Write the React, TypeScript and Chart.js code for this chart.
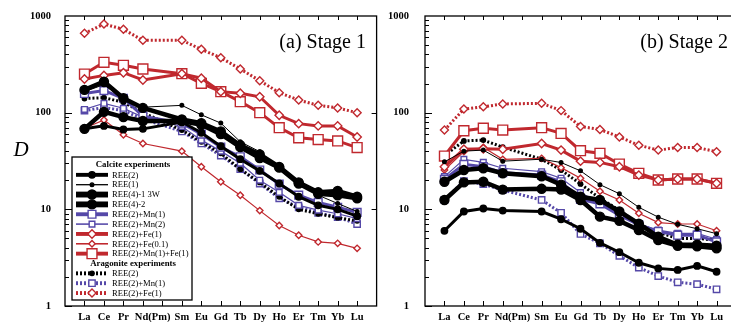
import React, { useEffect, useRef } from 'react';
import { Chart, registerables } from 'chart.js';

Chart.register(...registerables);

// ---------- categories ----------
const elements = ['La', 'Ce', 'Pr', 'Nd', 'Sm', 'Eu', 'Gd', 'Tb', 'Dy', 'Ho', 'Er', 'Tm', 'Yb', 'Lu'];
const atomicNumbers = [57, 58, 59, 60, 62, 63, 64, 65, 66, 67, 68, 69, 70, 71];
const tickAtomicNumbers = [57, 58, 59, 60, 61, 62, 63, 64, 65, 66, 67, 68, 69, 70, 71];
const axisLabels = ['La', 'Ce', 'Pr', 'Nd(Pm)', 'Sm', 'Eu', 'Gd', 'Tb', 'Dy', 'Ho', 'Er', 'Tm', 'Yb', 'Lu'];
const axisLabelAt = [57, 58, 59, 60.5, 62, 63, 64, 65, 66, 67, 68, 69, 70, 71];
const yTickValues = [1, 10, 100, 1000];

// ---------- Stage 1 ----------
const s1CalREE2 = [68, 73, 67, 68, 80, 62, 45, 33, 25, 18.5, 13.5, 11, 10, 8.5];
const s1CalREE1 = [165, 195, 138, 114, 119, 95, 78, 50, 39.5, 27, 18.5, 14, 11.5, 9.5];
const s1CalREE4_1 = [172, 209, 141, 112, 85, 78, 64, 46, 37, 27.5, 19, 15, 15.5, 13.5];
const s1CalREE4_2 = [68, 102, 90, 82, 82, 75, 60, 44, 34, 27, 18.5, 14.5, 14, 13];
const s1CalMn1 = [158, 169, 141, 92, 78, 60, 44, 35, 25.5, 18.2, 14, 11.8, 10.5, 9.3];
const s1CalMn2 = [108, 125, 111, 90, 72, 52, 40, 30, 20, 15, 11, 9.8, 9, 8];
const s1CalFe1 = [223, 243, 259, 218, 253, 227, 165, 159, 146, 94, 77, 73, 73, 56];
const s1CalFe01 = [69, 84, 59, 48, 40, 27.6, 19.3, 14, 9.7, 6.8, 5.4, 4.6, 4.45, 3.95];
const s1CalMnFe = [251, 332, 309, 283, 253, 201, 165, 130, 100, 70, 55, 52.7, 51, 43.5];
const s1AraREE2 = [140, 143, 128, 100, 66, 50, 38, 26, 19, 13.5, 10, 9, 8.2, 7.6];
const s1AraMn1 = [105, 113, 105, 86, 64, 48, 36, 26, 18.5, 13, 10.5, 9.2, 8.3, 7.05];
const s1AraFe1 = [662, 826, 728, 560, 560, 452, 370, 283, 214, 161, 135, 119, 112, 100];

// ---------- Stage 2 ----------
const s2CalREE2 = [6, 9.5, 10.2, 9.7, 9.5, 7.9, 6.3, 4.5, 3.6, 2.8, 2.45, 2.36, 2.6, 2.26];
const s2CalREE1 = [31, 40, 41, 31.5, 33, 30.5, 25, 18, 14.5, 10.5, 8.3, 7, 6.3, 5.6];
const s2CalREE4_1 = [19.3, 25.5, 26.6, 23.6, 22, 18, 13.5, 12.5, 9.5, 7.1, 5.2, 4.3, 4.3, 4.2];
const s2CalREE4_2 = [12.5, 19, 19.3, 16, 16.3, 16, 12.5, 8.4, 7.6, 6.1, 4.8, 4.2, 4.15, 3.95];
const s2CalMn1 = [20.4, 29.2, 27.6, 23.9, 22.6, 19.3, 12.7, 11.4, 8.7, 6.9, 5.9, 5.4, 5.4, 4.6];
const s2CalMn2 = [21.8, 32.9, 30.6, 26.6, 24.5, 21, 14.9, 11.5, 9.1, 7.05, 6.1, 5.65, 5.65, 4.9];
const s2CalFe1 = [27.6, 41.8, 42.4, 41.8, 48, 41, 31.5, 30.6, 27.6, 22.6, 20.1, 20.6, 20.6, 18.6];
const s2CalFe01 = [25.5, 39.5, 43.8, 32.9, 33.7, 27, 21, 15.4, 12.5, 9.1, 7.3, 7.05, 7.05, 6.0];
const s2CalMnFe = [35.6, 65, 69, 66, 70, 61, 40.4, 38, 29.4, 23.6, 20.1, 20.6, 20.6, 18.6];
const s2AraREE2 = [36, 51, 52, 44, 33, 25.5, 18.3, 13, 9.8, 7, 5.8, 5.0, 5.0, 4.8];
const s2AraMn1 = [12.5, 19.6, 18.2, 15.8, 12.5, 9.2, 5.56, 4.45, 3.3, 2.5, 2.04, 1.76, 1.68, 1.49];
const s2AraFe1 = [66, 109, 115, 123, 125, 105, 72, 67, 56, 46, 41, 43.5, 43.5, 39.5];

// ---------- series names & styles ----------
const BLACK = '#000000';
const PURPLE = '#5548a8';
const RED = '#c0282e';

type Style = { color: string; lw: number; dash: number[]; shape: string; r: number; filled: boolean };

const seriesNames = ['REE(2)', 'REE(1)', 'REE(4)-1 3W', 'REE(4)-2', 'REE(2)+Mn(1)', 'REE(2)+Mn(2)', 'REE(2)+Fe(1)', 'REE(2)+Fe(0.1)', 'REE(2)+Mn(1)+Fe(1)', 'REE(2)', 'REE(2)+Mn(1)', 'REE(2)+Fe(1)'];
const seriesStyles: Style[] = [
  { color: BLACK, lw: 3, dash: [], shape: 'circle', r: 3.2, filled: true },
  { color: BLACK, lw: 1, dash: [], shape: 'circle', r: 1.8, filled: true },
  { color: BLACK, lw: 4.5, dash: [], shape: 'circle', r: 4.5, filled: true },
  { color: BLACK, lw: 4.5, dash: [], shape: 'circle', r: 4.5, filled: true },
  { color: PURPLE, lw: 3, dash: [], shape: 'rect', r: 5.5, filled: false },
  { color: PURPLE, lw: 1.2, dash: [], shape: 'rect', r: 4, filled: false },
  { color: RED, lw: 3, dash: [], shape: 'rectRot', r: 4.2, filled: false },
  { color: RED, lw: 1.2, dash: [], shape: 'rectRot', r: 3.2, filled: false },
  { color: RED, lw: 3, dash: [], shape: 'rect', r: 7, filled: false },
  { color: BLACK, lw: 3, dash: [2, 2], shape: 'circle', r: 2.2, filled: true },
  { color: PURPLE, lw: 3, dash: [2, 2], shape: 'rect', r: 4.5, filled: false },
  { color: RED, lw: 3, dash: [2, 2], shape: 'rectRot', r: 4, filled: false },
];

const stage1 = [s1CalREE2, s1CalREE1, s1CalREE4_1, s1CalREE4_2, s1CalMn1, s1CalMn2, s1CalFe1, s1CalFe01, s1CalMnFe, s1AraREE2, s1AraMn1, s1AraFe1];
const stage2 = [s2CalREE2, s2CalREE1, s2CalREE4_1, s2CalREE4_2, s2CalMn1, s2CalMn2, s2CalFe1, s2CalFe01, s2CalMnFe, s2AraREE2, s2AraMn1, s2AraFe1];

const SERIF = '"Liberation Serif", "Times New Roman", serif';

function drawMarker(ctx: CanvasRenderingContext2D, st: Style, x: number, y: number) {
  ctx.beginPath();
  const r = st.r;
  if (st.shape === 'circle') ctx.arc(x, y, r, 0, Math.PI * 2);
  else if (st.shape === 'rect') {
    const s = r * Math.SQRT1_2;
    ctx.rect(x - s, y - s, 2 * s, 2 * s);
  } else {
    ctx.moveTo(x, y - r);
    ctx.lineTo(x + r, y);
    ctx.lineTo(x, y + r);
    ctx.lineTo(x - r, y);
    ctx.closePath();
  }
  ctx.setLineDash([]);
  ctx.fillStyle = st.filled ? st.color : '#ffffff';
  ctx.fill();
  ctx.lineWidth = 1.4;
  ctx.strokeStyle = st.color;
  ctx.stroke();
}

const framePlugin = {
  id: 'framePlugin',
  afterDraw(chart: any, _args: any, opts: any) {
    const { ctx, chartArea: a, scales } = chart;
    const x = scales.x;
    const y = scales.y;
    ctx.save();
    ctx.setLineDash([]);
    ctx.strokeStyle = '#000';
    ctx.lineWidth = 1.3;
    // legend
    if (opts.legend) {
      const L = opts.legend;
      ctx.fillStyle = '#fff';
      ctx.fillRect(L.x, L.y, L.w, L.h);
      ctx.strokeRect(L.x, L.y, L.w, L.h);
      const step = 9.85;
      let cy = L.y + 8;
      const rows: any[] = [];
      rows.push({ header: 'Calcite experiments' });
      for (let i = 0; i < 9; i++) rows.push({ i });
      rows.push({ header: 'Aragonite experiments' });
      for (let i = 9; i < 12; i++) rows.push({ i });
      ctx.textBaseline = 'middle';
      for (const row of rows) {
        if (row.header) {
          ctx.font = `bold 8.8px ${SERIF}`;
          ctx.fillStyle = '#000';
          ctx.textAlign = 'center';
          ctx.fillText(row.header, L.x + L.w / 2 + 1, cy);
        } else {
          const st = seriesStyles[row.i];
          ctx.beginPath();
          ctx.setLineDash(st.dash);
          ctx.strokeStyle = st.color;
          ctx.lineWidth = Math.max(st.lw * 1.3, 1);
          ctx.moveTo(L.x + 4, cy);
          ctx.lineTo(L.x + 36, cy);
          ctx.stroke();
          drawMarker(ctx, st, L.x + 20, cy);
          ctx.font = `8.6px ${SERIF}`;
          ctx.fillStyle = '#000';
          ctx.textAlign = 'left';
          ctx.fillText(seriesNames[row.i], L.x + 40, cy + 0.5);
        }
        cy += step;
      }
    }
    // frame
    ctx.setLineDash([]);
    ctx.strokeStyle = '#000';
    ctx.lineWidth = 1.3;
    ctx.strokeRect(a.left, a.top, a.right - a.left, a.bottom - a.top);
    ctx.lineWidth = 1;
    ctx.beginPath();
    for (const z of tickAtomicNumbers) {
      const px = Math.round(x.getPixelForValue(z)) + 0.5;
      ctx.moveTo(px, a.bottom);
      ctx.lineTo(px, a.bottom - 5);
      ctx.moveTo(px, a.top);
      ctx.lineTo(px, a.top + 4);
    }
    for (let d = 0; d < 3; d++) {
      for (let m = 1; m <= 9; m++) {
        const v = m * Math.pow(10, d);
        const py = Math.round(y.getPixelForValue(v)) + 0.5;
        const len = m === 1 ? 7 : 4;
        ctx.moveTo(a.left, py);
        ctx.lineTo(a.left + len, py);
        if (m === 1 && d > 0) {
          ctx.moveTo(a.right, py);
          ctx.lineTo(a.right - 5, py);
        }
      }
    }
    ctx.stroke();
    // x-axis element labels
    ctx.fillStyle = '#000';
    ctx.font = `bold 10.5px ${SERIF}`;
    ctx.textAlign = 'center';
    ctx.textBaseline = 'alphabetic';
    axisLabels.forEach((lab, i) => {
      ctx.fillText(lab, x.getPixelForValue(axisLabelAt[i]), 320);
    });
    // title
    ctx.font = `20px ${SERIF}`;
    ctx.textAlign = 'right';
    ctx.fillText(opts.title, opts.titleX, 48);
    if (opts.showD) {
      ctx.font = `italic 21px ${SERIF}`;
      ctx.textAlign = 'center';
      ctx.fillText('D', 21, 156);
    }
    ctx.restore();
  },
};

function makeConfig(values: number[][], yWidth: number, yPad: number, padRight: number, pluginOpts: any): any {
  const datasets = values.map((vals, si) => {
    const st = seriesStyles[si];
    return {
      label: seriesNames[si],
      data: atomicNumbers.map((z, i) => ({ x: z, y: vals[i] })),
      borderColor: st.color,
      borderWidth: st.lw,
      borderDash: st.dash,
      pointStyle: st.shape,
      pointRadius: st.r,
      pointBackgroundColor: st.filled ? st.color : '#ffffff',
      pointBorderColor: st.color,
      pointBorderWidth: 1.4,
      fill: false,
      tension: 0,
    };
  });
  return {
    type: 'line',
    data: { datasets },
    options: {
      responsive: false,
      animation: false,
      devicePixelRatio: 1,
      layout: { padding: { top: 16, right: padRight, left: 0, bottom: 0 } },
      plugins: {
        legend: { display: false },
        tooltip: { enabled: false },
        framePlugin: pluginOpts,
      },
      scales: {
        x: {
          type: 'linear',
          min: 56,
          max: 72,
          grid: { display: false },
          border: { display: false },
          afterBuildTicks: (scale: any) => {
            scale.ticks = axisLabelAt.map((v) => ({ value: v }));
          },
          afterFit: (scale: any) => {
            scale.height = 16;
          },
          ticks: { display: false },
        },
        y: {
          type: 'logarithmic',
          min: 1,
          max: 1000,
          grid: { display: false },
          border: { display: false },
          afterBuildTicks: (scale: any) => {
            scale.ticks = yTickValues.map((v) => ({ value: v, major: true }));
          },
          afterFit: (scale: any) => {
            scale.width = yWidth;
          },
          ticks: {
            autoSkip: false,
            padding: yPad,
            color: '#000',
            font: { family: SERIF, size: 10.5, weight: 'bold' },
            callback: (v: any) => String(v),
          },
        },
      },
    },
    plugins: [framePlugin],
  };
}

function Panel(props: { values: number[][]; left: number; width: number; yWidth: number; yPad: number; padRight: number; pluginOpts: any }) {
  const ref = useRef<HTMLCanvasElement | null>(null);
  useEffect(() => {
    if (!ref.current) return;
    const chart = new Chart(ref.current, makeConfig(props.values, props.yWidth, props.yPad, props.padRight, props.pluginOpts));
    return () => chart.destroy();
  }, []);
  return (
    <canvas
      ref={ref}
      width={props.width}
      height={322}
      style={{ position: 'absolute', left: props.left, top: 0, width: props.width, height: 322 }}
    />
  );
}

export default function App() {
  return (
    <div style={{ position: 'fixed', left: 0, top: 0, width: 731, height: 322, overflow: 'hidden', background: '#fff' }}>
      <Panel
        values={stage1}
        left={0}
        width={385}
        yWidth={65}
        yPad={6}
        padRight={7}
        pluginOpts={{ title: '(a) Stage 1', titleX: 366, showD: true, legend: { x: 72, y: 157, w: 120, h: 143 } }}
      />
      <Panel
        values={stage2}
        left={380}
        width={365}
        yWidth={45}
        yPad={8}
        padRight={9}
        pluginOpts={{ title: '(b) Stage 2', titleX: 348, showD: false, legend: null }}
      />
    </div>
  );
}
